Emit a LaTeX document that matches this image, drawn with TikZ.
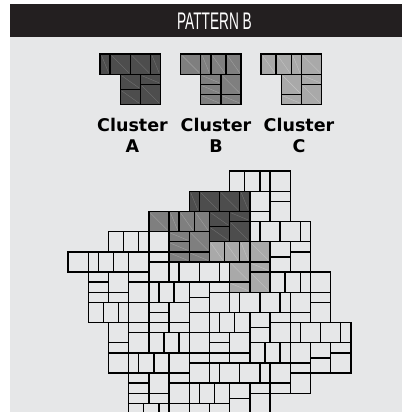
\documentclass[tikz,border=0pt]{standalone}
\usepackage{fontspec}
\newfontfamily\titlefont{Liberation Sans}
\newfontfamily\labfont{DejaVu Sans}
\definecolor{panel}{HTML}{E6E7E8}
\definecolor{barc}{HTML}{231F20}
\definecolor{cA}{HTML}{4D4D4D}
\definecolor{cB}{HTML}{7F7F7F}
\definecolor{cC}{HTML}{A9A9A9}
\tikzset{
  tex/.style={},
  wh/.style={fill=panel},
  gA/.style={fill=cA, tex/.style={draw=white, draw opacity=0.2, line width=0.4pt}},
  gB/.style={fill=cB, tex/.style={draw=white, draw opacity=0.25, line width=0.4pt}},
  gC/.style={fill=cC, tex/.style={draw=white, draw opacity=0.3, line width=0.4pt}},
  stoneline/.style={draw=black, line width=1.4pt},
  lab/.style={font=\labfont\bfseries\fontsize{17.5}{20}\selectfont, anchor=base, text=black},
}
\newcommand{\stn}[4]{\filldraw[stoneline] (#1,#2) rectangle (#3,#4); \path[tex] ({#1+0.15},{#2+0.15}) -- ({#3-0.15},{#4-0.15});}
\newcommand{\clA}[3]{\begin{scope}[shift={(#1,#2)},#3]
\stn{0}{0}{1}{2}\stn{1}{0}{3}{2}\stn{3}{0}{5}{2}\stn{5}{0}{6}{2}
\stn{2}{2}{4}{3.5}\stn{2}{3.5}{4}{5}\stn{4}{2}{6}{3}\stn{4}{3}{6}{5}
\end{scope}}
\newcommand{\clB}[3]{\begin{scope}[shift={(#1,#2)},#3]
\stn{0}{0}{2}{2}\stn{2}{0}{3}{2}\stn{3}{0}{4.5}{2}\stn{4.5}{0}{6}{2}
\stn{2}{2}{4}{3}\stn{2}{3}{4}{4}\stn{2}{4}{4}{5}\stn{4}{2}{6}{4}\stn{4}{4}{6}{5}
\end{scope}}
\newcommand{\clC}[3]{\begin{scope}[shift={(#1,#2)},#3]
\stn{0}{0}{1.5}{2}\stn{1.5}{0}{3}{2}\stn{3}{0}{4}{2}\stn{4}{0}{6}{2}
\stn{2}{2}{4}{4}\stn{2}{4}{4}{5}\stn{4}{2}{6}{3}\stn{4}{3}{6}{5}
\end{scope}}
\begin{document}
\begin{tikzpicture}[x=1pt,y=-1pt]
\useasboundingbox (0,0) rectangle (412,412);
\begin{scope}
\clip (0,0) rectangle (412,412);
\fill[white] (0,0) rectangle (412,412);
\fill[panel] (10,37) rectangle (402,412);
\fill[barc] (10,4) rectangle (402,37);
\node[text=white, font=\titlefont\fontsize{24}{24}\selectfont] (title) at (214.5,21) {\scalebox{0.57}[1]{PATTERN B}};

% legend icons
\begin{scope}[shift={(100,54)}, x=10.1pt, y=-10.1pt]\clA{0}{0}{gA}\end{scope}
\begin{scope}[shift={(180.5,54)}, x=10.1pt, y=-10.1pt]\clB{0}{0}{gB}\end{scope}
\begin{scope}[shift={(261,54)}, x=10.1pt, y=-10.1pt]\clC{0}{0}{gC}\end{scope}
\node[lab] (lA1) at (132.5,131.7) {Cluster};
\node[lab] (lA2) at (132.5,152) {A};
\node[lab] (lB1) at (216,131.7) {Cluster};
\node[lab] (lB2) at (216,152) {B};
\node[lab] (lC1) at (299,131.7) {Cluster};
\node[lab] (lC2) at (299,152) {C};

% main pattern
\begin{scope}[shift={(68,171)}, x=10.1pt, y=-10.1pt]
% row j=0
\clB{0}{8}{wh}
\clC{4}{6}{wh}
\clB{8}{4}{gB}
\clA{12}{2}{gA}
\clC{16}{0}{wh}
% row j=1
\clC{2}{13}{wh}
\clB{6}{11}{wh}
\clA{10}{9}{wh}
\clC{14}{7}{gC}
\clA{18}{5}{wh}
% row j=2
\clB{4}{18}{wh}
\clC{8}{16}{wh}
\clB{12}{14}{wh}
\clA{16}{12}{wh}
\clC{20}{10}{wh}
% row j=3
\clC{6}{23}{wh}
\clB{10}{21}{wh}
\clA{14}{19}{wh}
\clC{18}{17}{wh}
\clA{22}{15}{wh}
\end{scope}
\end{scope}
\end{tikzpicture}
\end{document}
